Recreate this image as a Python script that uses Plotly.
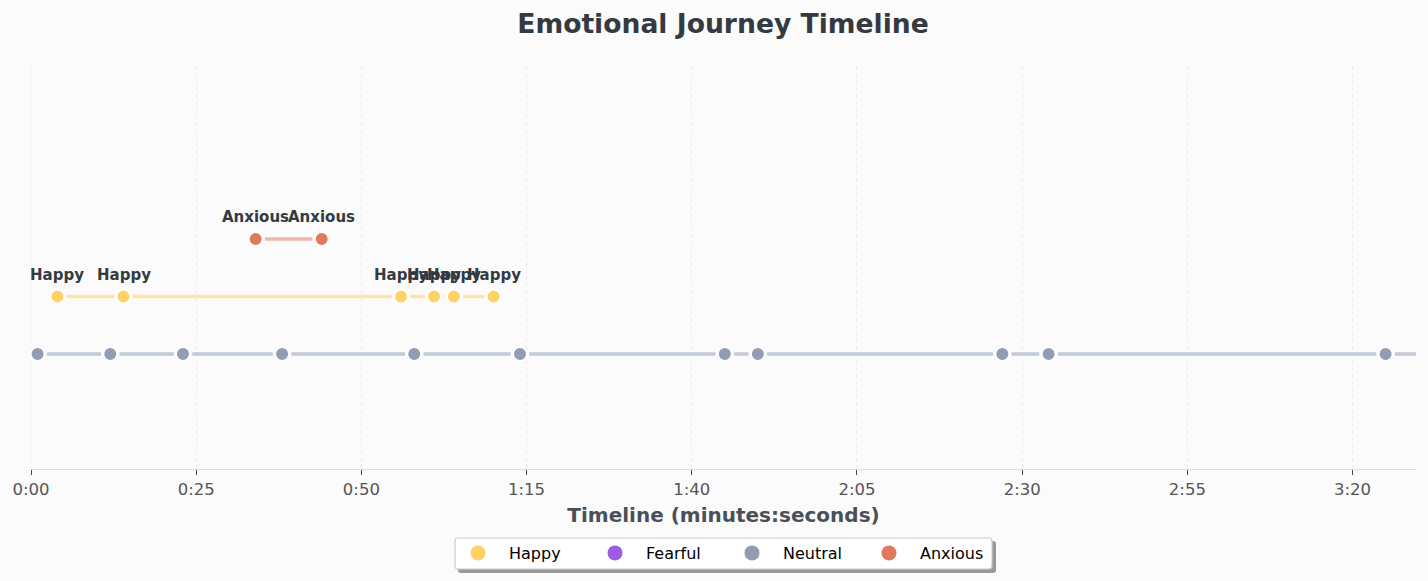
import plotly.graph_objects as go

emotions = ["Happy", "Fearful", "Neutral", "Anxious"]
colors = ["#FFD166", "#9B5DE5", "#919DB2", "#E07A5F"]
line_colors = ["#FFE3A8", "#C9A8F0", "#C2C9D7", "#EEB8AB"]
levels = [1, 3, 0, 2]
happy_t = [4, 14, 56, 61, 64, 70]
fearful_t = []
neutral_t = [1, 12, 23, 38, 58, 74, 105, 110, 147, 154, 205, 216]
anxious_t = [34, 44]
times = [happy_t, fearful_t, neutral_t, anxious_t]
tick_vals = [0, 25, 50, 75, 100, 125, 150, 175, 200]
tick_labels = ["0:00", "0:25", "0:50", "1:15", "1:40", "2:05", "2:30", "2:55", "3:20"]

W, H = 1428, 581
L, R, T, B = 31, 1416, 66, 469
XMAX = 209.6
GAP = 9.3 / ((R - L) / XMAX)
BG = "#FBFBFB"
GRID = "#EBEBEB"


def px(v):
    return (v - L) / (R - L)


def py(v):
    return (B - v) / (B - T)


def round_rect(x0, y0, x1, y1, r):
    a0, a1 = px(x0), px(x1)
    b0, b1 = py(y0), py(y1)
    rx, ry = r / (R - L), r / (B - T)
    return (f"M{a0+rx},{b0} L{a1-rx},{b0} Q{a1},{b0} {a1},{b0-ry} L{a1},{b1+ry} Q{a1},{b1} {a1-rx},{b1} "
            f"L{a0+rx},{b1} Q{a0},{b1} {a0},{b1+ry} L{a0},{b0-ry} Q{a0},{b0} {a0+rx},{b0} Z")


fig = go.Figure()
for name, col, lcol, lev, ts in zip(emotions, colors, line_colors, levels, times):
    xs, ys = [], []
    for a, b in zip(ts[:-1], ts[1:]):
        if b - a > 2 * GAP:
            xs += [a + GAP, b - GAP, None]
            ys += [lev, lev, None]
    if xs:
        fig.add_trace(go.Scatter(x=xs, y=ys, mode="lines", line=dict(color=lcol, width=3.5),
                                 showlegend=False, hoverinfo="skip"))
annotations = []
for name, col, lev, ts in zip(emotions, colors, levels, times):
    if ts:
        fig.add_trace(go.Scatter(
            x=ts, y=[lev] * len(ts), mode="markers",
            marker=dict(color=col, size=13.5, line=dict(color="#FFFFFF", width=1.5)),
            showlegend=False, hovertemplate=name + " %{x}s<extra></extra>"))
        if name != "Neutral":
            for t in ts:
                annotations.append(dict(x=t, y=lev, text=name, showarrow=False, yshift=22, yanchor="middle",
                                        xanchor="center",
                                        font=dict(size=15, color="#343A40", weight="bold")))
for name, col in zip(emotions, colors):
    fig.add_trace(go.Scatter(x=[None], y=[None], mode="markers", name=name,
                             marker=dict(color=col, size=15)))

fig.update_layout(
    width=W, height=H, autosize=False,
    paper_bgcolor=BG, plot_bgcolor=BG,
    margin=dict(l=L, r=W - R, t=T, b=H - B, autoexpand=False),
    font=dict(family="DejaVu Sans"),
    annotations=annotations,
    title=dict(text="Emotional Journey Timeline", x=723 / W, xanchor="center", y=1 - 24 / H, yanchor="middle",
               font=dict(size=26.6, color="#343A40", weight="bold")),
    xaxis=dict(range=[0, XMAX], tickvals=tick_vals, ticktext=tick_labels, ticks="outside", ticklen=5,
               tickcolor="#444444", tickwidth=1, tickfont=dict(size=16.5, color="#555555"),
               showgrid=True, gridcolor=GRID, griddash="4px,3px", gridwidth=1,
               showline=True, linecolor="#DDDDDD", linewidth=1, zeroline=False, automargin=False,
               title=dict(text="Timeline (minutes:seconds)", standoff=10,
                          font=dict(size=20, color="#495057", weight="bold"))),
    yaxis=dict(range=[-2.00, 5.01], visible=False, showgrid=False, zeroline=False),
    legend=dict(orientation="h", x=px(447), xanchor="left", y=py(536), yanchor="top",
                bgcolor="rgba(0,0,0,0)", borderwidth=0, font=dict(size=16, color="#000000"),
                itemwidth=52, entrywidth=70, entrywidthmode="pixels",
                itemclick=False, itemdoubleclick=False),
    shapes=[
        dict(type="line", xref="x", yref="paper", x0=tick_vals[0], x1=tick_vals[0], y0=0, y1=1, layer="below",
             line=dict(color=GRID, width=1, dash="4px,3px")),
        dict(type="path", xref="paper", yref="paper", path=round_rect(458, 541, 996, 573, 3), layer="below",
             fillcolor="#999999", line=dict(width=0)),
        dict(type="path", xref="paper", yref="paper", path=round_rect(455, 538, 992, 569, 3), layer="below",
             fillcolor="#FFFFFF", line=dict(color="#CCCCCC", width=1.2)),
    ],
)
fig.write_html("out.html", config={"displayModeBar": False},
               post_script="document.body.style.margin='0';document.body.style.background='#FBFBFB';")
